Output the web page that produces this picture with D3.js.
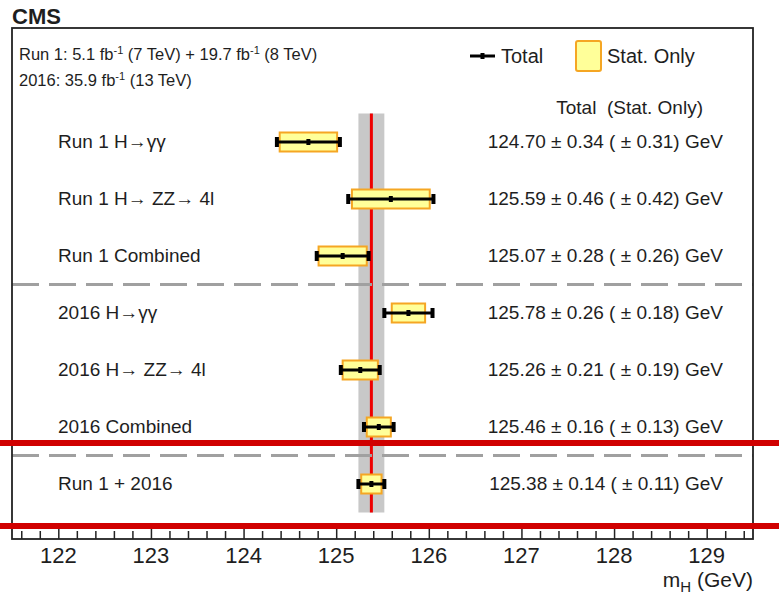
<!DOCTYPE html>
<html>
<head>
<meta charset="utf-8">
<script src="https://cdn.jsdelivr.net/npm/d3@7"></script>
<style>
  body { margin: 0; background: #fff; }
  svg text { font-family: "Liberation Sans", Arial, Helvetica, sans-serif; fill: #1e1e1e; }
</style>
</head>
<body>
<svg id="chart" width="779" height="595"></svg>
<script>
// measurements
const labels = ['Run 1 H\u2192\u03b3\u03b3', 'Run 1 H\u2192 ZZ\u2192 4l', 'Run 1 Combined',
  '2016 H\u2192\u03b3\u03b3', '2016 H\u2192 ZZ\u2192 4l', '2016 Combined', 'Run 1 + 2016'];
const masses = [124.70, 125.59, 125.07, 125.78, 125.26, 125.46, 125.38];
const totalErrors = [0.34, 0.46, 0.28, 0.26, 0.21, 0.16, 0.14];
const statErrors = [0.31, 0.42, 0.26, 0.18, 0.19, 0.13, 0.11];
const separators = [3, 6];
const xTicks = [122, 123, 124, 125, 126, 127, 128, 129];
const xDomain = [121.5, 129.5];

const rows = labels.map((label, i) => ({
  label, mass: masses[i], tot: totalErrors[i], stat: statErrors[i]
}));
const combined = rows[rows.length - 1];

const frame = {left: 12, top: 28, right: 753, bottom: 539};

const svg = d3.select('#chart');

const xScale = d3.scaleLinear().domain(xDomain).range([frame.left, frame.right]);
const yScale = d3.scaleBand().domain(labels).range([113.5, 512.5]);
const yc = d => yScale(d) + yScale.bandwidth() / 2;

// combined band + line
svg.append('rect')
  .attr('x', xScale(combined.mass - combined.tot))
  .attr('y', yScale.range()[0])
  .attr('width', xScale(combined.mass + combined.tot) - xScale(combined.mass - combined.tot))
  .attr('height', yScale.range()[1] - yScale.range()[0])
  .attr('fill', '#c8c8c8');

svg.append('line')
  .attr('x1', xScale(combined.mass)).attr('x2', xScale(combined.mass))
  .attr('y1', yScale.range()[0]).attr('y2', yScale.range()[1])
  .attr('stroke', '#ee0000').attr('stroke-width', 3);

// dashed separators
svg.append('g')
  .selectAll('line')
  .data(separators)
  .join('line')
  .attr('x1', frame.left).attr('x2', frame.right)
  .attr('y1', i => yScale.range()[0] + i * yScale.step())
  .attr('y2', i => yScale.range()[0] + i * yScale.step())
  .attr('stroke', '#a0a0a0').attr('stroke-width', 3)
  .attr('stroke-dasharray', '27,10');

// stat-only boxes
const boxH = 19;
svg.append('g')
  .selectAll('rect')
  .data(rows)
  .join('rect')
  .attr('x', d => xScale(d.mass - d.stat))
  .attr('y', d => yc(d.label) - boxH / 2)
  .attr('width', d => xScale(d.mass + d.stat) - xScale(d.mass - d.stat))
  .attr('height', boxH)
  .attr('fill', '#ffff99')
  .attr('stroke', '#f5a623')
  .attr('stroke-width', 2);

// total error bars
const bars = svg.append('g').selectAll('g').data(rows).join('g');
bars.append('line')
  .attr('x1', d => xScale(d.mass - d.tot))
  .attr('x2', d => xScale(d.mass + d.tot))
  .attr('y1', d => yc(d.label)).attr('y2', d => yc(d.label))
  .attr('stroke', '#000').attr('stroke-width', 3);
bars.selectAll('rect.cap')
  .data(d => [d.mass - d.tot, d.mass + d.tot].map(v => ({v, y: yc(d.label)})))
  .join('rect')
  .attr('class', 'cap')
  .attr('x', c => xScale(c.v) - 2)
  .attr('y', c => c.y - 5)
  .attr('width', 4).attr('height', 10)
  .attr('fill', '#000');
bars.append('rect')
  .attr('x', d => xScale(d.mass) - 2)
  .attr('y', d => yc(d.label) - 3)
  .attr('width', 4).attr('height', 6)
  .attr('fill', '#000');

// labels left and values right
svg.append('g')
  .selectAll('text')
  .data(rows)
  .join('text')
  .attr('x', 58)
  .attr('y', d => yc(d.label) + 6)
  .attr('font-size', 19)
  .text(d => d.label);

svg.append('g')
  .selectAll('text')
  .data(rows)
  .join('text')
  .attr('x', 723)
  .attr('y', d => yc(d.label) + 6)
  .attr('text-anchor', 'end')
  .attr('font-size', 19)
  .text(d => `${d.mass.toFixed(2)} \u00b1 ${d.tot.toFixed(2)} ( \u00b1 ${d.stat.toFixed(2)}) GeV`);

svg.append('text')
  .attr('x', 703).attr('y', 114)
  .attr('text-anchor', 'end')
  .attr('font-size', 19)
  .attr('xml:space', 'preserve')
  .text('Total  (Stat. Only)');

// frame
svg.append('rect')
  .attr('x', frame.left).attr('y', frame.top)
  .attr('width', frame.right - frame.left)
  .attr('height', frame.bottom - frame.top)
  .attr('fill', 'none')
  .attr('stroke', '#222').attr('stroke-width', 1.8);

// x axis, ticks pointing inward
svg.append('g')
  .attr('transform', `translate(0,${frame.bottom})`)
  .call(d3.axisTop(xScale)
    .tickValues(d3.range(121.6, 129.5, 0.2).filter(v => Math.abs(v - Math.round(v)) > 0.01))
    .tickSize(8).tickFormat(''))
  .call(g => g.select('.domain').remove());
svg.append('g')
  .attr('transform', `translate(0,${frame.bottom})`)
  .call(d3.axisTop(xScale).tickValues(xTicks).tickSize(16).tickFormat(''))
  .call(g => g.select('.domain').remove());
svg.selectAll('.tick line').attr('stroke', '#222').attr('stroke-width', 1.5);

svg.append('g')
  .selectAll('text')
  .data(xTicks)
  .join('text')
  .attr('x', d => xScale(d))
  .attr('y', 563)
  .attr('text-anchor', 'middle')
  .attr('font-size', 22)
  .text(d => d);

const xTitle = svg.append('text')
  .attr('x', 753).attr('y', 587)
  .attr('text-anchor', 'end')
  .attr('font-size', 21);
xTitle.append('tspan').text('m');
xTitle.append('tspan').attr('font-size', 15).attr('dy', 5).text('H');
xTitle.append('tspan').attr('dy', -5).text(' (GeV)');

// header
svg.append('text')
  .attr('x', 12).attr('y', 24)
  .attr('font-size', 22).attr('font-weight', 'bold')
  .text('CMS');

const lumi1 = svg.append('text').attr('x', 19).attr('y', 60).attr('font-size', 16.5);
lumi1.append('tspan').text('Run 1: 5.1 fb');
lumi1.append('tspan').attr('font-size', 11).attr('dy', -6).text('-1');
lumi1.append('tspan').attr('dy', 6).text(' (7 TeV) + 19.7 fb');
lumi1.append('tspan').attr('font-size', 11).attr('dy', -6).text('-1');
lumi1.append('tspan').attr('dy', 6).text(' (8 TeV)');

const lumi2 = svg.append('text').attr('x', 19).attr('y', 86).attr('font-size', 16.5);
lumi2.append('tspan').text('2016: 35.9 fb');
lumi2.append('tspan').attr('font-size', 11).attr('dy', -6).text('-1');
lumi2.append('tspan').attr('dy', 6).text(' (13 TeV)');

// legend
const legend = svg.append('g');
legend.append('line')
  .attr('x1', 470).attr('x2', 495).attr('y1', 56).attr('y2', 56)
  .attr('stroke', '#000').attr('stroke-width', 3);
legend.append('rect')
  .attr('x', 480.5).attr('y', 53).attr('width', 4).attr('height', 6).attr('fill', '#000');
legend.append('text').attr('x', 501).attr('y', 63).attr('font-size', 20).text('Total');
legend.append('rect')
  .attr('x', 576).attr('y', 41).attr('width', 25).attr('height', 30)
  .attr('rx', 2)
  .attr('fill', '#ffff99').attr('stroke', '#f5a623').attr('stroke-width', 2);
legend.append('text').attr('x', 607).attr('y', 63).attr('font-size', 20).text('Stat. Only');

// red overlay lines across the picture
svg.append('g')
  .selectAll('line')
  .data([443, 526])
  .join('line')
  .attr('x1', 0).attr('x2', 779)
  .attr('y1', d => d).attr('y2', d => d)
  .attr('stroke', '#d00000').attr('stroke-width', 6);
</script>
</body>
</html>
